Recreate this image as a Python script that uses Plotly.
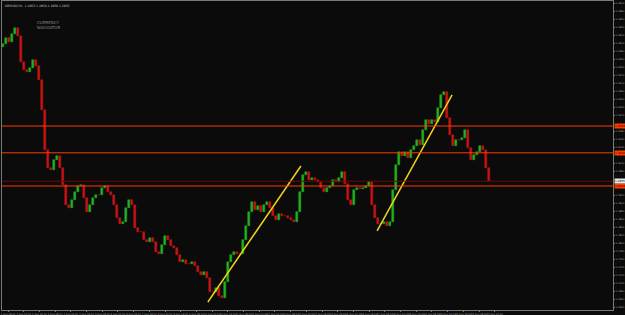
import plotly.graph_objects as go
import datetime as dt

# ---------------- data ----------------
symbol_title = "GBPUSD,H1  1.2953 1.2958 1.2950 1.2955"
first_open = 1.3290
closes = [
    1.3298, 1.3313, 1.3303, 1.3323, 1.3338, 1.3318, 1.3253, 1.3233, 1.3228, 1.3238,
    1.3258, 1.3243, 1.3208, 1.3133, 1.3033, 1.2988, 1.2983, 1.3008, 1.3018, 1.2988,
    1.2946, 1.2896, 1.2888, 1.2908, 1.2928, 1.2943, 1.2946, 1.2913, 1.2878, 1.2896,
    1.2913, 1.2921, 1.2921, 1.2938, 1.2943, 1.2928, 1.2921, 1.2896, 1.2863, 1.2848,
    1.2853, 1.2888, 1.2908, 1.2896, 1.2838, 1.2828, 1.2828, 1.2808, 1.2803, 1.2813,
    1.2803, 1.2778, 1.2773, 1.2796, 1.2818, 1.2808, 1.2793, 1.2788, 1.2771, 1.2753,
    1.2758, 1.2748, 1.2748, 1.2753, 1.2743, 1.2728, 1.2721, 1.2728, 1.2713, 1.2678,
    1.2678, 1.2688, 1.2668, 1.2663, 1.2703, 1.2753, 1.2771, 1.2778, 1.2773, 1.2773,
    1.2808, 1.2843, 1.2878, 1.2903, 1.2883, 1.2893, 1.2878, 1.2896, 1.2903, 1.2888,
    1.2868, 1.2858, 1.2873, 1.2868, 1.2868, 1.2863, 1.2858, 1.2853, 1.2878, 1.2928,
    1.2971, 1.2978, 1.2958, 1.2963, 1.2958, 1.2953, 1.2938, 1.2928, 1.2938, 1.2943,
    1.2958, 1.2953, 1.2963, 1.2978, 1.2948, 1.2908, 1.2896, 1.2933, 1.2938, 1.2936,
    1.2938, 1.2943, 1.2953, 1.2896, 1.2863, 1.2848, 1.2848, 1.2853, 1.2843, 1.2853,
    1.2933, 1.2996, 1.3028, 1.3018, 1.3028, 1.3013, 1.3033, 1.3043, 1.3058, 1.3046,
    1.3083, 1.3108, 1.3098, 1.3108, 1.3103, 1.3138, 1.3171, 1.3178, 1.3113, 1.3071,
    1.3043, 1.3058, 1.3058, 1.3063, 1.3083, 1.3038, 1.3008, 1.3021, 1.3028, 1.3043,
    1.3033, 1.2988, 1.2955,
]
level_prices = [1.3093, 1.3026, 1.2943]
bid_price = 1.2955
trend1_x = [68.3, 99.3]
trend1_y = [1.2653, 1.2993]
trend2_x = [124.7, 149.7]
trend2_y = [1.2831, 1.3171]
start_time = dt.datetime(2018, 8, 1, 8)
x_tick_labels = [(start_time + dt.timedelta(hours=16 * k)).strftime("%-d %b %H:00") for k in range(32)]

# ---------------- style ----------------
BG = "#0b0b0b"
BULL = "#1fb41f"
BEAR = "#c81414"
AXIS = "#7a7a7a"
TXT = "#a8a8a8"
LEVEL = "#ff3c00"
W, H = 625, 315
ML, MR, MT, MB = 2, 12, 1, 5
PX_PER_BAR = 3.0

opens = [first_open] + closes[:-1]
xs = list(range(len(closes)))
bases = [min(o, c) for o, c in zip(opens, closes)]
heights = [abs(c - o) for o, c in zip(opens, closes)]
colors = [BULL if c > o else BEAR for o, c in zip(opens, closes)]

fig = go.Figure()
fig.add_trace(go.Bar(
    x=xs, y=heights, base=bases, width=0.55,
    marker=dict(color=colors, line=dict(color=colors, width=0.5)),
    hoverinfo="skip", showlegend=False,
))

# horizontal levels
for p in level_prices:
    fig.add_shape(type="line", xref="paper", x0=0, x1=1, yref="y", y0=p, y1=p,
                  line=dict(color=LEVEL, width=1))
fig.add_shape(type="line", xref="paper", x0=0, x1=1, yref="y", y0=bid_price, y1=bid_price,
              line=dict(color="#6e0a00", width=1))

# trend lines
for tx, ty in ((trend1_x, trend1_y), (trend2_x, trend2_y)):
    fig.add_trace(go.Scatter(x=tx, y=ty, mode="lines",
                             line=dict(color="#f2d21b", width=1.5),
                             hoverinfo="skip", showlegend=False))

# axis price labels
for p in level_prices:
    fig.add_annotation(xref="paper", x=1.002, xanchor="left", yref="y", y=p, yanchor="middle",
                       text=f"{p:.4f}", showarrow=False, bgcolor=LEVEL, borderpad=0,
                       font=dict(size=2.8, color="#1a0000", family="DejaVu Sans"))
fig.add_annotation(xref="paper", x=1.002, xanchor="left", yref="y", y=bid_price, yanchor="middle",
                   text=f"{bid_price:.4f}", showarrow=False, bgcolor="#e8e8e8", borderpad=0,
                   font=dict(size=2.8, color="#000000", family="DejaVu Sans"))

# title & logo text
fig.add_annotation(xref="paper", yref="paper", x=0.002, y=0.998, xanchor="left", yanchor="top",
                   text=symbol_title, showarrow=False,
                   font=dict(size=3, color="#c8c8c8", family="DejaVu Sans"))
fig.add_annotation(xref="paper", yref="paper", x=0.054, y=0.945, xanchor="left", yanchor="top",
                   text="CURRENCY<br>NAVIGATOR", showarrow=False, align="left",
                   font=dict(size=4, color="#8a8a8a", family="DejaVu Sans"))

plot_w = W - ML - MR
x0_range = (ML - 3) / PX_PER_BAR
x1_range = x0_range + plot_w / PX_PER_BAR
tickvals_x = [(k * 15.7 + 5) / PX_PER_BAR for k in range(len(x_tick_labels))]

y_top = 1.3408 - MT * 0.00025
y_bot = 1.3408 - (H - MB) * 0.00025
marked = level_prices + [bid_price]
yticks = [round(1.2640 + 0.002 * k, 4) for k in range(39)]
yticks = [v for v in yticks if all(abs(v - m) > 0.0012 for m in marked)]

fig.update_layout(
    width=W, height=H, margin=dict(l=ML, r=MR, t=MT, b=MB, autoexpand=False),
    paper_bgcolor=BG, plot_bgcolor=BG, bargap=0, showlegend=False,
    xaxis=dict(range=[x0_range, x1_range], showgrid=False, zeroline=False, automargin=False,
               showline=True, linecolor=AXIS, linewidth=1, mirror=True,
               tickmode="array", tickvals=tickvals_x, ticktext=x_tick_labels, tickangle=0,
               ticks="outside", ticklen=1, tickcolor=AXIS,
               tickfont=dict(size=2.4, color=TXT, family="DejaVu Sans")),
    yaxis=dict(range=[y_bot, y_top], side="right", showgrid=False, zeroline=False, automargin=False,
               showline=True, linecolor=AXIS, linewidth=1, mirror=True,
               tickmode="array", tickvals=yticks, ticktext=[f"{v:.4f}" for v in yticks],
               ticks="outside", ticklen=1, tickcolor=AXIS,
               tickfont=dict(size=2.5, color=TXT, family="DejaVu Sans")),
)

fig.write_html("out.html")
